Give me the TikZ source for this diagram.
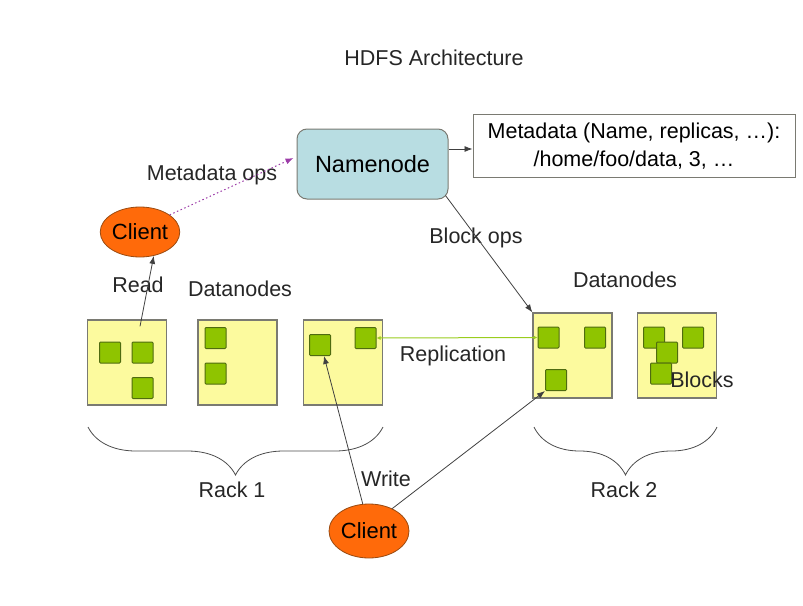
\documentclass[tikz,border=0pt]{standalone}
\usepackage{fontspec}
\setmainfont{Liberation Sans}
\usepackage{xcolor}
\usepackage{tikz}
\usetikzlibrary{arrows.meta,positioning,shapes.geometric,decorations.pathreplacing}
\definecolor{rackfill}{HTML}{FCFA9E}
\definecolor{rackline}{HTML}{7A7A72}
\definecolor{blockfill}{HTML}{8FC400}
\definecolor{blockline}{HTML}{4F6B10}
\definecolor{namefill}{HTML}{B8DDE2}
\definecolor{clientfill}{HTML}{FF6A0A}
\definecolor{clientline}{HTML}{9A4A10}
\definecolor{opsline}{HTML}{9C3CA8}
\definecolor{replline}{HTML}{9ACD1E}
\definecolor{txt}{HTML}{262626}
\tikzset {
    datanode/.style={draw=rackline, fill=rackfill, line width=1.2pt,
        minimum width=79pt, minimum height=85pt, inner sep=0pt},
    block/.style={draw=blockline, fill=blockfill, line width=1pt,
        rounded corners=1pt, minimum size=21pt, inner sep=0pt},
    namenode/.style={draw=rackline, fill=namefill, line width=1pt,
        rounded corners=10pt, minimum width=151pt, minimum height=70pt,
        font=\fontsize{23.5}{28}\selectfont},
    metabox/.style={draw=rackline, line width=1pt, minimum width=322pt,
        minimum height=63pt, align=center, inner sep=0pt},
    client/.style={draw=clientline, fill=clientfill, ellipse, line width=0.8pt,
        inner sep=0pt, font=\fontsize{22}{26}\selectfont},
    label/.style={text=txt, inner sep=0pt},
    link/.style={draw=black!75, line width=0.8pt,
        -{Latex[length=8pt,width=6pt]}},
    opslink/.style={draw=opsline, line width=1pt, dash pattern=on 1.5pt off 2.5pt,
        -{Latex[length=8pt,width=6pt]}},
    repllink/.style={draw=replline, line width=1pt,
        {Latex[length=4pt,width=4pt]}-{Latex[length=4pt,width=4pt]}},
    rackbrace/.style={draw=black!70, line width=0.8pt,
        decorate, decoration={brace, mirror, amplitude=48pt}}
}

\begin{document}
\begin{tikzpicture}[x=1pt, y=-1pt, font=\fontsize{21.5}{28}\selectfont]

        \useasboundingbox (0,0) rectangle (803,605);

        \node[label] (title) at (434,58) {HDFS Architecture};

        \node[namenode] (NN) at (372.5,164) {Namenode};
        \node[metabox] (meta) at (634,146) {Metadata (Name, replicas, \dots):\\/home/foo/data, 3, \dots};
        \node[client] (C1) at (140,232) [minimum width=79pt, minimum height=50pt] {Client};
        \node[client] (C2) at (369,531) [minimum width=80pt, minimum height=54pt] {Client};

        % rack 1
        \node[datanode] (D1) at (127,362.5) {};
        \node[datanode] (D2) at (237.5,362.5) {};
        \node[datanode] (D3) at (343,362.5) {};
        \node[block] (B11) at (110,352.5) {};
        \node[block] (B12) at (142.5,352.5) {};
        \node[block] (B13) at (142.5,388) {};
        \node[block] (B21) at (215.5,338) {};
        \node[block] (B22) at (215.5,373.5) {};
        \node[block] (B31) at (320,345) {};
        \node[block] (B32) at (365.5,338) {};

        % rack 2
        \node[datanode] (D4) at (572.5,355.5) {};
        \node[datanode] (D5) at (677,355.5) {};
        \node[block] (B41) at (548.5,337.5) {};
        \node[block] (B42) at (595,337.5) {};
        \node[block] (B43) at (556,380) {};
        \node[block] (B51) at (654,337.5) {};
        \node[block] (B52) at (667,352.5) {};
        \node[block] (B53) at (693,337.5) {};
        \node[block] (B54) at (661,373.5) {};

        \node[label] (blocks) at (702,380) {Blocks};
        \node[label] (dn1) at (240,289) {Datanodes};
        \node[label] (dn2) at (625,280) {Datanodes};
        \node[label] (mops) at (212,175) {Metadata ops};
        \node[label] (read) at (138,285) {Read};
        \node[label] (bops) at (476,238) {Block ops};
        \node[label] (repl) at (453,356) {Replication};
        \node[label] (write) at (386,479) {Write};
        \node[label] (rack1) at (232,490) {Rack 1};
        \node[label] (rack2) at (624,490) {Rack 2};

        \coordinate (r1a) at (88,427);
        \coordinate (r1b) at (383,427);
        \coordinate (r2a) at (534,427);
        \coordinate (r2b) at (717,427);
        \draw[rackbrace] (r1a) -- (r1b);
        \draw[rackbrace] (r2a) -- (r2b);

        \draw[opslink] (C1.30) -- ([yshift=6pt, xshift=-3pt]NN.west);
        \draw[link] ([yshift=15pt]NN.east) -- ([yshift=-3pt]meta.west);
        \draw[link] ([xshift=-3pt, yshift=4pt]NN.south east) -- (D4.north west);
        \draw[link] ([xshift=13pt, yshift=-7pt]D1.north) -- (C1.-60);
        \draw[link] (C2.103) -- ([xshift=4pt]B31.south);
        \draw[link] (C2.44) -- (B43.south west);
        \draw[repllink] (B41.west) -- (B32.east);

    \end{tikzpicture}
\end{document}
